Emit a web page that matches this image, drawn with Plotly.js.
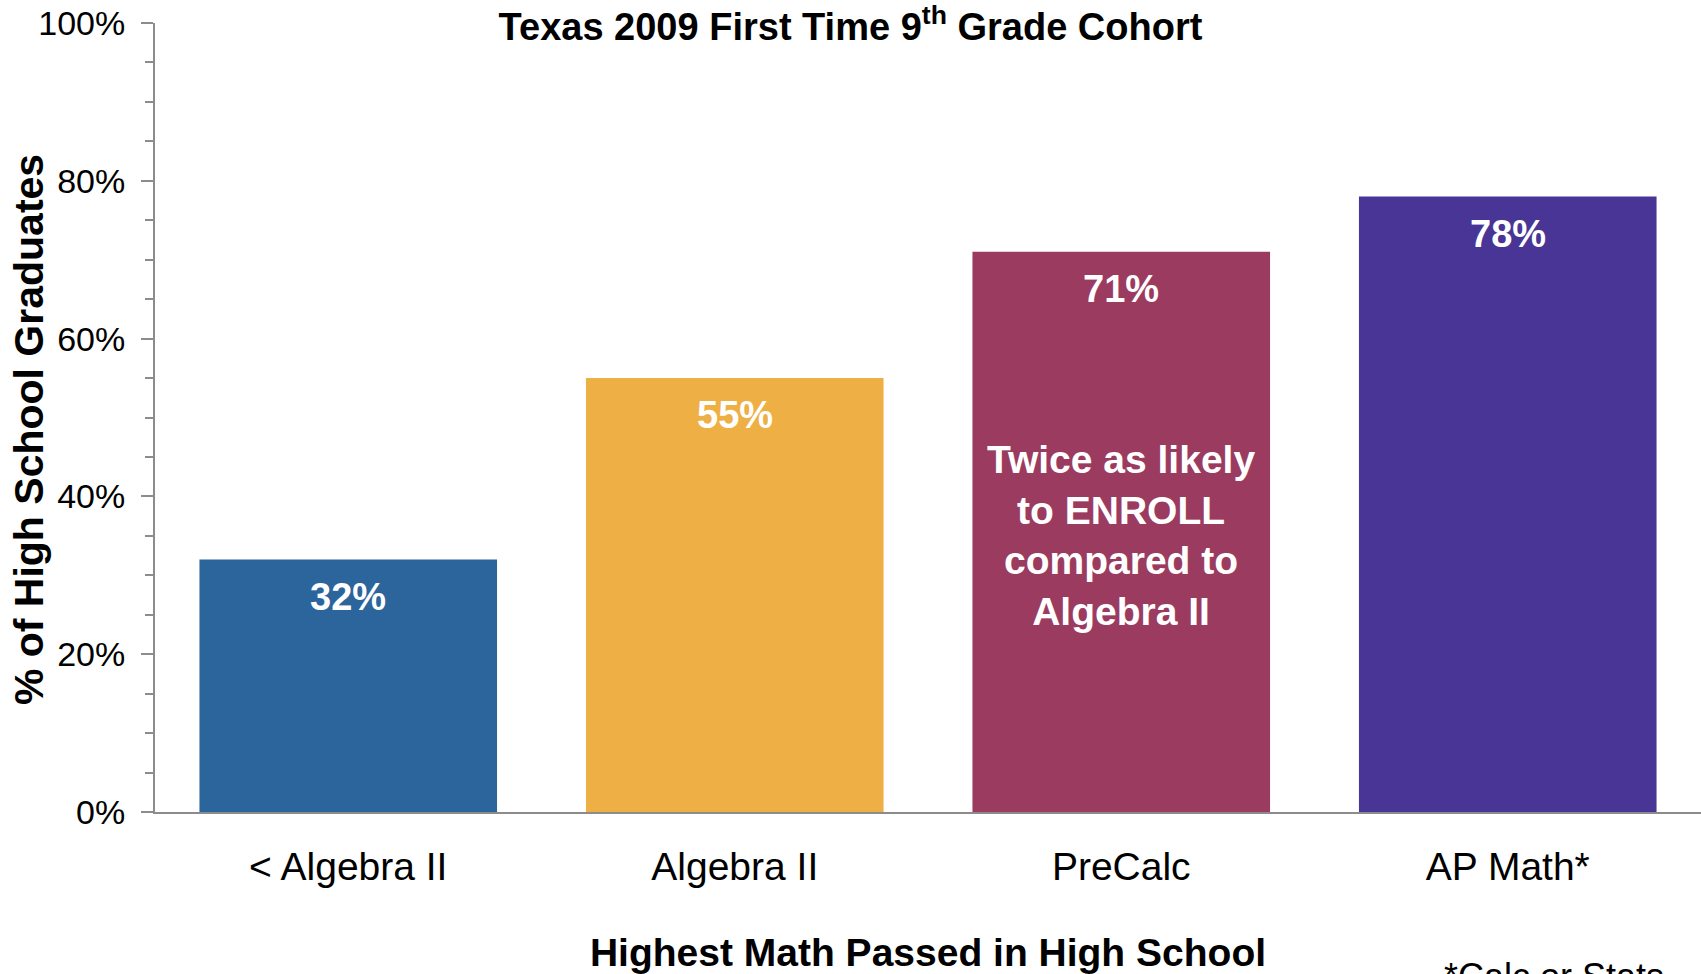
<!DOCTYPE html>
<html>
<head>
<meta charset="utf-8">
<script src="https://cdn.plot.ly/plotly-3.0.1.min.js"></script>
<style>
html,body{margin:0;padding:0;background:#fff;}
#chart{width:1701px;height:974px;}
</style>
</head>
<body>
<div id="chart"></div>
<script>
const categories = ['< Algebra II', 'Algebra II', 'PreCalc', 'AP Math*'];
const values = [32, 55, 71, 78];
const barColors = ['#2C649C', '#EEB044', '#9B3B5F', '#483596'];
const yTickVals = [0, 20, 40, 60, 80, 100];
const yTickText = ['0%', '20%', '40%', '60%', '80%', '100%'];
const noteText = 'Twice as likely<br>to ENROLL<br>compared to<br>Algebra II';
const noteCategory = 'PreCalc';
const noteY = 35;

const FONT = '"Liberation Sans", Arial, sans-serif';

const trace = {
  type: 'bar',
  x: categories,
  y: values,
  marker: {color: barColors, line: {width: 0}},
  hoverinfo: 'skip'
};

const annotations = categories.map((c, i) => ({
  x: c, y: values[i], xref: 'x', yref: 'y',
  text: '<b>' + values[i] + '%</b>',
  showarrow: false, yanchor: 'middle', yshift: -37,
  font: {family: FONT, size: 38, color: '#ffffff'}
}));
annotations.push({
  x: noteCategory, y: noteY, xref: 'x', yref: 'y',
  text: '<b>' + noteText + '</b>',
  showarrow: false, yanchor: 'middle', align: 'center',
  font: {family: FONT, size: 39, color: '#ffffff'}
});
annotations.push({
  x: 0.905, xref: 'paper', y: -0.18, yref: 'paper',
  text: '*Calc or Stats', showarrow: false, xanchor: 'center', yanchor: 'top',
  font: {family: FONT, size: 36, color: '#000000'}
});
annotations.push({
  x: 29, xref: 'paper', y: 0.484, yref: 'paper',
  text: '<b>% of High School Graduates</b>', showarrow: false,
  textangle: -90, xanchor: 'center', yanchor: 'middle',
  font: {family: FONT, size: 41, color: '#000000'}
});
// fix y-title x position in paper coordinates
annotations[annotations.length - 1].x = (29 - 155) / 1546;

const layout = {
  width: 1701, height: 974,
  paper_bgcolor: '#ffffff', plot_bgcolor: '#ffffff',
  margin: {l: 155, r: 0, t: 23, b: 162, pad: 0},
  showlegend: false,
  bargap: 0.23,
  title: {
    text: '<b>Texas 2009 First Time 9<sup>th</sup> Grade Cohort</b>',
    x: 0.5, xref: 'container', xanchor: 'center',
    y: 0.973, yref: 'container', yanchor: 'middle',
    font: {family: FONT, size: 38, color: '#000000'}
  },
  xaxis: {
    type: 'category', range: [-0.5, 3.5],
    showline: true, linecolor: '#8c8c8c', linewidth: 2,
    ticks: '', showgrid: false, zeroline: false,
    tickfont: {family: FONT, size: 39, color: '#000000'},
    ticklabelstandoff: 19,
    automargin: false,
    title: {text: '<b>Highest Math Passed in High School</b>', standoff: 52,
            font: {family: FONT, size: 39, color: '#000000'}}
  },
  yaxis: {
    range: [0, 100], tickvals: yTickVals, ticktext: yTickText,
    showline: true, linecolor: '#8c8c8c', linewidth: 2,
    ticks: 'outside', ticklen: 12, tickwidth: 2, tickcolor: '#8c8c8c',
    minor: {dtick: 5, ticks: 'outside', ticklen: 8, tickwidth: 2, tickcolor: '#8c8c8c', showgrid: false},
    showgrid: false, zeroline: false,
    tickfont: {family: FONT, size: 34, color: '#000000'},
    ticklabelstandoff: 9,
    automargin: false
  },
  annotations: annotations
};

Plotly.newPlot('chart', [trace], layout, {displayModeBar: false, staticPlot: true});
</script>
</body>
</html>
